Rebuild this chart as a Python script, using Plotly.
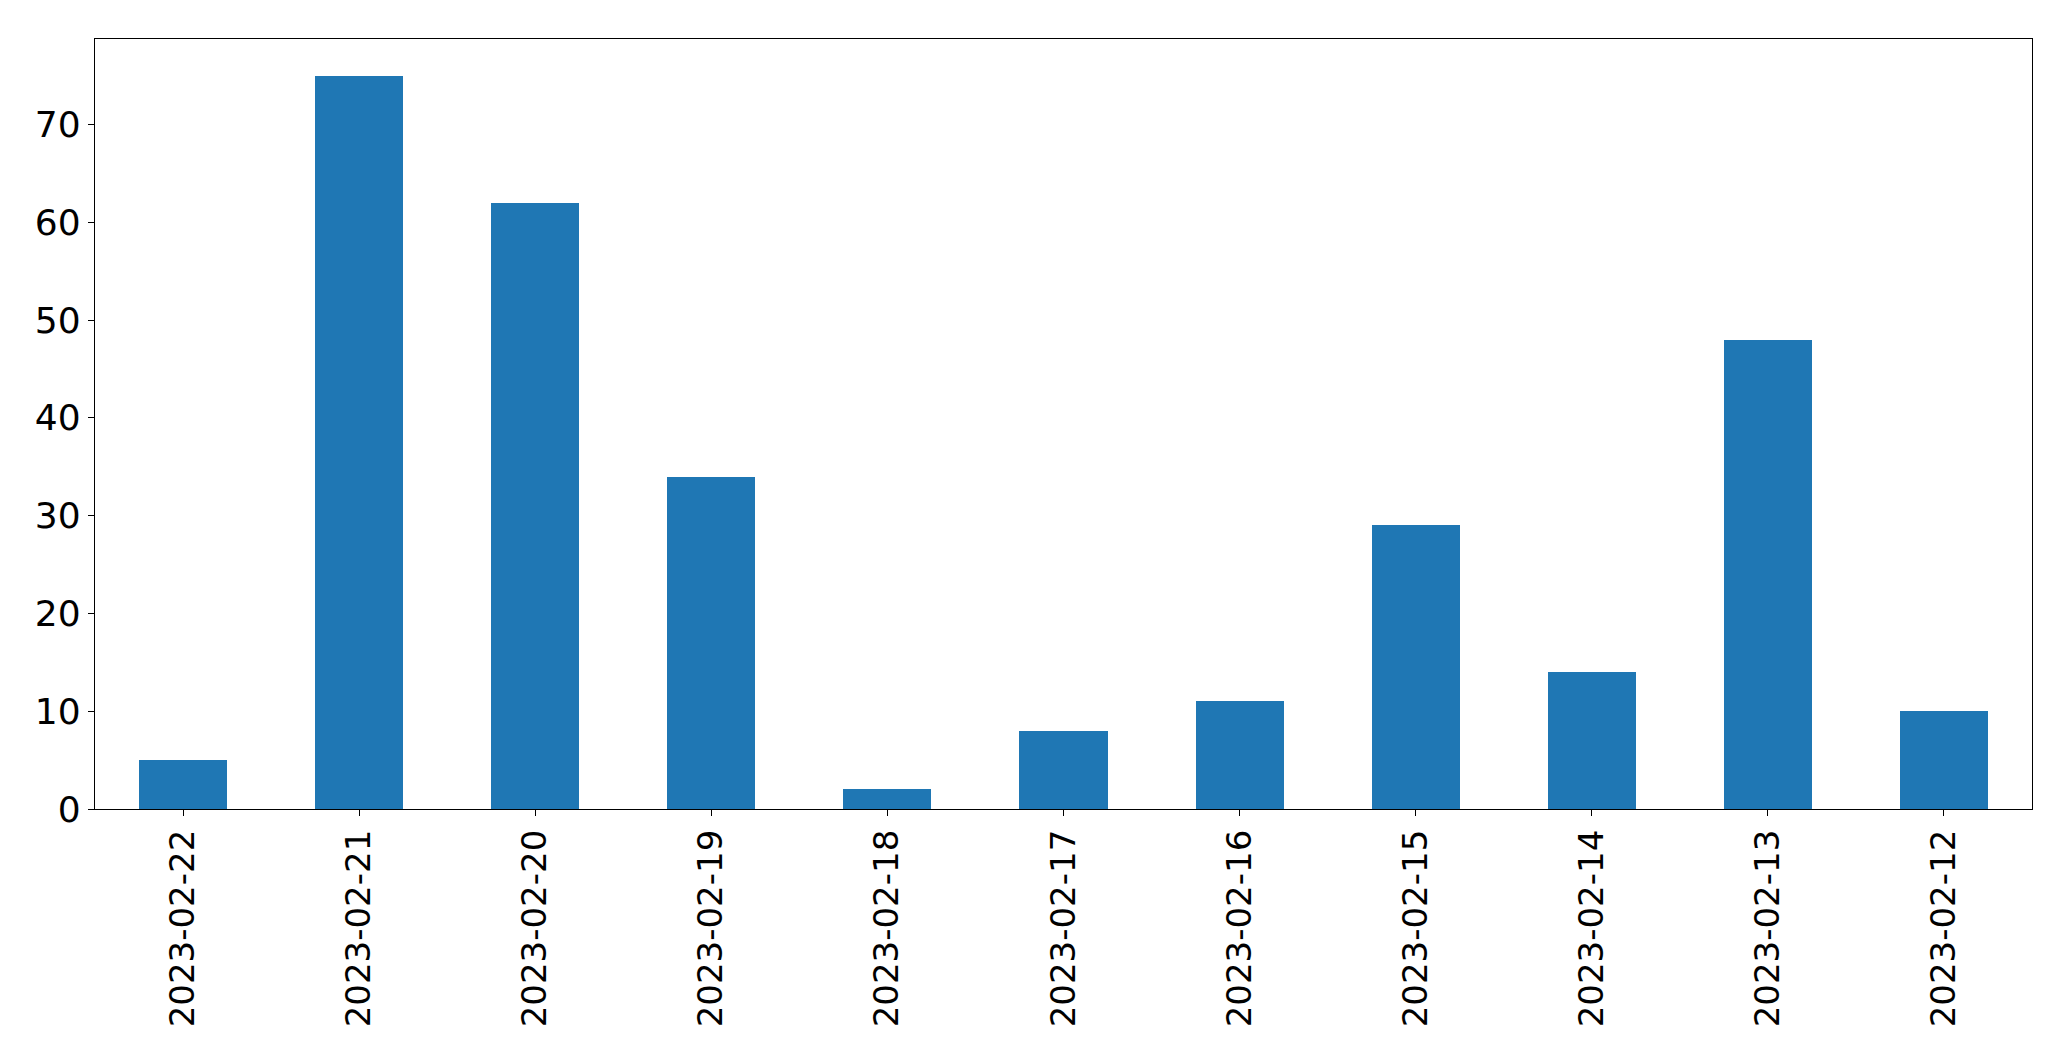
import plotly.graph_objects as go

dates = ["2023-02-22", "2023-02-21", "2023-02-20", "2023-02-19", "2023-02-18",
         "2023-02-17", "2023-02-16", "2023-02-15", "2023-02-14", "2023-02-13", "2023-02-12"]
counts = [5, 75, 62, 34, 2, 8, 11, 29, 14, 48, 10]
ytick_vals = [0, 10, 20, 30, 40, 50, 60, 70]

pos = list(range(len(dates)))

fig = go.Figure(go.Bar(x=pos, y=counts, width=0.5, marker=dict(color="#1f77b4", line=dict(width=0))))

fig.update_layout(
    width=2055, height=1045,
    margin=dict(l=87, r=31, t=31, b=244, autoexpand=False),
    paper_bgcolor="white", plot_bgcolor="white",
    font=dict(family="DejaVu Sans", size=34, color="black"),
    showlegend=False,
    bargap=0,
)
fig.update_xaxes(
    range=[-0.5, len(dates) - 0.5], tickmode="array", tickvals=pos, ticktext=dates,
    tickangle=-90, showline=True, mirror=True, linecolor="black", linewidth=1.3,
    ticks="outside", ticklen=6, tickwidth=1.3, tickcolor="black", showgrid=False, zeroline=False,
)
fig.update_yaxes(
    range=[0, 78.75], tickmode="array", tickvals=ytick_vals,
    showline=True, mirror=True, linecolor="black", linewidth=1.3,
    ticks="outside", ticklen=6, tickwidth=1.3, tickcolor="black", showgrid=False, zeroline=False,
    tickfont=dict(size=36),
)

fig.write_html("out.html")
